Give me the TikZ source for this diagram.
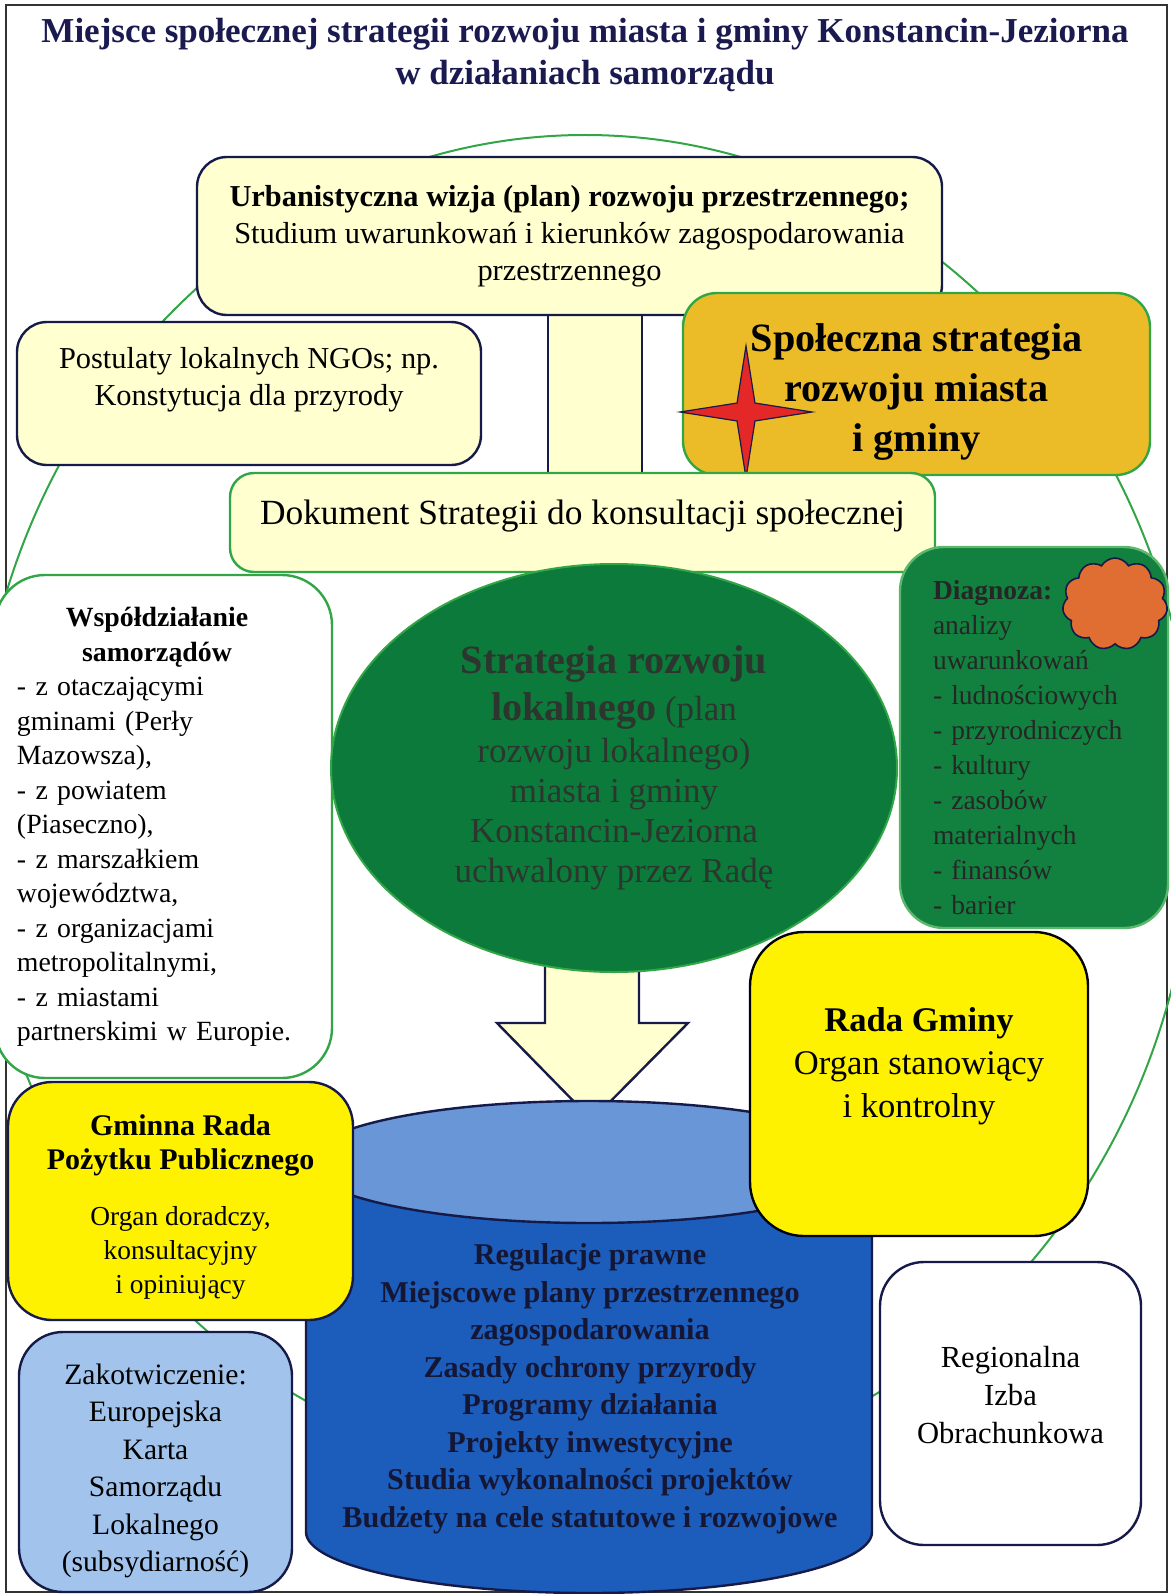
\documentclass[tikz,border=0pt]{standalone}
\usepackage{fontspec}
\setmainfont{Liberation Serif}
\usepackage{tikz}
\usetikzlibrary{shapes.geometric, shapes.symbols, positioning, backgrounds}

\definecolor{navy}{RGB}{22,26,72}
\definecolor{titlenavy}{RGB}{26,26,80}
\definecolor{paleyellow}{RGB}{255,255,208}
\definecolor{ringgreen}{RGB}{50,165,70}
\definecolor{gold}{RGB}{236,188,40}
\definecolor{starred}{RGB}{228,40,40}
\definecolor{darkgreen}{RGB}{12,122,58}
\definecolor{diaggreen}{RGB}{18,128,62}
\definecolor{cloudorange}{RGB}{224,110,50}
\definecolor{lightblue}{RGB}{105,150,215}
\definecolor{deepblue}{RGB}{28,92,186}
\definecolor{paleblue}{RGB}{162,196,236}
\definecolor{inkgreen}{RGB}{44,54,46}
\definecolor{inkblue}{RGB}{20,22,52}

\newcommand{\fsz}[2]{\fontsize{#1}{#2}\selectfont}

\tikzstyle{panel} = [rectangle, rounded corners=15pt, draw=navy, line width=1.2pt, align=center, inner sep=0pt]
\tikzstyle{palepanel} = [panel, fill=paleyellow]
\tikzstyle{greenpanel} = [palepanel, draw=ringgreen]
\tikzstyle{yellowpanel} = [panel, fill=yellow, rounded corners=24pt]
\tikzstyle{txt} = [align=center, inner sep=0pt]
\tikzstyle{ring} = [draw=ringgreen, line width=1pt]

\begin{document}
\begin{tikzpicture}[x=0.5pt, y=-0.5pt]
\useasboundingbox (0,0) rectangle (1171,1594);

% Tytul
\node (title) [txt, font=\fsz{17.5}{21}\bfseries, text=titlenavy] at (585,55) {Miejsce społecznej strategii rozwoju miasta i gminy Konstancin-Jeziorna\\w działaniach samorządu};

% Gorna czesc
\node (urb) [palepanel, minimum width=372.5pt, minimum height=79pt, font=\fsz{15.2}{18.5}] at (569.5,236) {\textbf{Urbanistyczna wizja (plan) rozwoju przestrzennego;}\\Studium uwarunkowań i kierunków zagospodarowania\\przestrzennego};
\node (ngo) [palepanel, minimum width=232pt, minimum height=71.5pt] at (249,393.5) {};
\node (ngotxt) [txt, font=\fsz{15.2}{18.5}, yshift=7pt] at (ngo) {Postulaty lokalnych NGOs; np.\\Konstytucja dla przyrody};
\node (spol) [panel, fill=gold, draw=ringgreen, rounded corners=17pt, minimum width=233.5pt, minimum height=91pt] at (916.5,384) {};
\node (spoltxt) [txt, font=\fsz{20.1}{25}\bfseries, yshift=-4pt] at (spol) {Społeczna strategia\\rozwoju miasta\\i gminy};
\node (spark) [star, star points=4, star point ratio=5.2, minimum size=66pt, inner sep=0pt, fill=starred, draw=navy, line width=0.6pt] at (746,412) {};
\node (dok) [greenpanel, rounded corners=12pt, minimum width=352.5pt, minimum height=49.5pt] at (582.5,522.5) {};
\node (doktxt) [txt, font=\fsz{17.7}{21}, yshift=3pt] at (dok) {Dokument Strategii do konsultacji społecznej};

% Srodek
\node (wsp) [panel, draw=ringgreen, fill=white, rounded corners=25pt, minimum width=168.5pt, minimum height=251.5pt] at (163.5,826.5) {};
\node (wsptxt) [text width=140pt, align=left, inner sep=0pt, font=\fsz{13.9}{17.25}] at (157,827) {\makebox[140pt][c]{\bfseries Współdziałanie}\\\makebox[140pt][c]{\bfseries samorządów}\\- z otaczającymi\\gminami (Perły\\Mazowsza),\\- z powiatem\\(Piaseczno),\\- z marszałkiem\\województwa,\\- z organizacjami\\metropolitalnymi,\\- z miastami\\partnerskimi w Europie.};
\node (strat) [ellipse, fill=darkgreen, draw=ringgreen, line width=1pt, minimum width=283pt, minimum height=204pt, inner sep=0pt, text=inkgreen, align=center, font=\fsz{17.5}{20}] at (614,768) {{\fsz{20.1}{23}\bfseries Strategia rozwoju}\\[3.5pt]{\fsz{20.1}{23}\bfseries lokalnego} (plan\\[1pt]rozwoju lokalnego)\\miasta i gminy\\Konstancin-Jeziorna\\uchwalony przez Radę};
\node (diag) [panel, fill=diaggreen, draw=ringgreen!80!white, rounded corners=22pt, minimum width=134pt, minimum height=190.5pt] at (1034,737.5) {};
\node (diagtxt) [text width=101pt, inner sep=0pt, align=left, font=\fsz{13.75}{17.5}, text=black!85, yshift=-5pt] at (diag) {\textbf{Diagnoza:}\\analizy\\uwarunkowań\\- ludnościowych\\- przyrodniczych\\- kultury\\- zasobów\\materialnych\\- finansów\\- barier};
\node (puff) [cloud, cloud puffs=11, cloud puff arc=120, aspect=1.15, minimum width=52.5pt, minimum height=46pt, inner sep=0pt, fill=cloudorange, draw=navy, line width=0.8pt] at (1115,604) {};

% Cylinder
\fill[deepblue] (306,1162) rectangle (872,1532);
\fill[deepblue] (589,1532) ellipse [x radius=283, y radius=61];
\draw[navy, line width=1.2pt] (306,1162) -- (306,1532) arc[start angle=180, end angle=0, x radius=283, y radius=61] -- (872,1162);
\filldraw[fill=lightblue, draw=navy, line width=1.2pt] (589,1162) ellipse [x radius=283, y radius=61];
\node (cyl) [txt, font=\fsz{15.1}{18.75}\bfseries, text=inkblue] at (590,1389) {Regulacje prawne\\Miejscowe plany przestrzennego\\zagospodarowania\\Zasady ochrony przyrody\\Programy działania\\Projekty inwestycyjne\\Studia wykonalności projektów\\Budżety na cele statutowe i rozwojowe};

% Dolna czesc
\node (rada) [yellowpanel, draw=black!85!navy, rounded corners=27pt, minimum width=169pt, minimum height=152pt] at (919,1084) {};
\node (radatxt) [txt, font=\fsz{17.3}{21.5}, yshift=9pt] at (rada) {\textbf{Rada Gminy}\\Organ stanowiący\\i kontrolny};
\node (gminna) [yellowpanel, rounded corners=22pt, minimum width=172.5pt, minimum height=119pt] at (180.5,1201) {};
\node (gminnatxt) [txt, font=\fsz{13.7}{17}, yshift=-3pt] at (gminna) {{\fsz{15}{17}\bfseries Gminna Rada}\\{\fsz{15}{17}\bfseries Pożytku Publicznego}\\[11pt]Organ doradczy,\\konsultacyjny\\i opiniujący};
\node (zak) [panel, fill=paleblue, rounded corners=22pt, minimum width=136.5pt, minimum height=130pt] at (155.5,1462) {};
\node (zaktxt) [txt, font=\fsz{14.8}{18.75}, yshift=-4.5pt] at (zak) {Zakotwiczenie:\\Europejska\\Karta\\Samorządu\\Lokalnego\\(subsydiarność)};
\node (rio) [panel, fill=white, rounded corners=22pt, minimum width=130.5pt, minimum height=141.5pt] at (1010.5,1403.5) {};
\node (riotxt) [txt, font=\fsz{15.3}{19}, yshift=4pt] at (rio) {Regionalna\\Izba\\Obrachunkowa};

% Tlo: ramka, okrag, lacznik i strzalka
\begin{scope}[on background layer]
\draw[black!80, line width=0.6pt] (6,5) rectangle (1167,1592);
\draw[ring] (585,805) ellipse [x radius=610, y radius=670];
\fill[paleyellow] (548,0 |- urb.south) rectangle (642,0 |- dok.north);
\draw[navy, line width=1.2pt] (548,0 |- urb.south) -- (548,0 |- dok.north);
\draw[navy, line width=1.2pt] (642,0 |- urb.south) -- (642,0 |- dok.north);
\filldraw[fill=paleyellow, draw=navy, line width=1.2pt] (545,960) -- (545,1023) -- (497,1023) -- (592,1120) -- (688,1023) -- (639,1023) -- (639,960) -- cycle;
\end{scope}
\end{tikzpicture}
\end{document}
